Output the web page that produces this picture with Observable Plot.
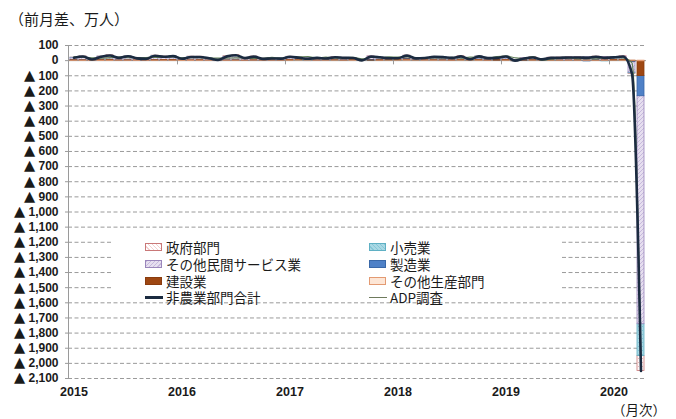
<!DOCTYPE html>
<html><head><meta charset="utf-8">
<script src="https://cdn.jsdelivr.net/npm/d3@7"></script>
<script src="https://cdn.jsdelivr.net/npm/@observablehq/plot@0.6"></script>
<style>
body{margin:0;background:#fff;}
#wrap{position:relative;width:676px;height:419px;overflow:hidden;font-family:"Noto Sans CJK JP",sans-serif;color:#1a1a1a;}
#chart{position:absolute;left:0;top:0;}
.title{position:absolute;left:9px;top:8px;font-size:15px;line-height:22px;white-space:nowrap;}
.unit{position:absolute;left:612px;top:401px;font-size:13.5px;line-height:16px;height:16px;white-space:nowrap;}
.legend{position:absolute;left:113px;top:236px;width:447px;height:62px;background:#fff;}
.li{position:absolute;height:16px;font-size:13.5px;line-height:16px;white-space:nowrap;}
.sw{position:absolute;left:0;top:4px;width:17px;height:8px;box-sizing:border-box;}
.ln{position:absolute;left:0;width:18px;}
.li span.t{position:absolute;left:21px;top:0;display:block;height:16px;line-height:16px;}
</style></head>
<body>
<div id="wrap">
  <div id="chart"></div>
  <div class="title">（前月差、万人）</div>
  <div class="unit">（月次）</div>
  <div class="legend" id="legend"></div>
</div>
<script>
// ---- categories ----
const years = [2015, 2016, 2017, 2018, 2019, 2020];
const months = d3.utcMonth.range(new Date(Date.UTC(2015,0,1)), new Date(Date.UTC(2020,4,1))).map(d => d3.utcFormat("%Y-%m")(d));
const sectors = ["政府部門","小売業","その他民間サービス業","製造業","建設業","その他生産部門"];
const stackOrder = ["その他生産部門","建設業","製造業","その他民間サービス業","小売業","政府部門"];
const yTicks = [100,0,-100,-200,-300,-400,-500,-600,-700,-800,-900,-1000,-1100,-1200,-1300,-1400,-1500,-1600,-1700,-1800,-1900,-2000,-2100];

// ---- series values (万人, 前月差) ----
const govt = [
 1.0,2.4,0.3,1.0,3.5,0.3,2.3,1.4,-0.6,2.5,2.0,2.2,
 0.7,1.3,1.0,1.3,0.1,3.4,4.6,1.8,3.0,1.5,0.8,0.3,
 1.2,0.2,0.0,-0.3,1.1,3.1,1.5,0.8,1.2,0.6,1.2,-0.1,
 0.8,1.6,0.4,0.7,1.0,0.3,0.2,4.1,0.0,1.3,1.7,0.1,
 0.8,-0.4,0.2,2.4,0.5,3.3,3.2,3.6,2.6,2.4,1.7,0.9,
 0.8,3.2,-3.5,-98.0];
const retail = [
 3.8,3.0,2.6,1.0,3.1,2.8,1.9,1.5,2.6,3.2,3.3,1.7,
 5.2,4.2,3.8,5.4,0.9,1.6,0.9,1.3,1.4,0.3,3.9,5.6,
 2.8,-2.0,-3.3,1.4,0.2,-0.2,1.3,0.0,-1.1,-0.9,2.5,-2.8,
 -0.3,4.4,-0.8,0.2,1.2,0.4,0.8,-0.5,-2.1,1.3,1.7,0.1,
 1.6,-2.7,-1.1,-0.8,-0.6,-1.0,-0.3,-1.4,-1.1,0.6,0.2,-3.0,
 -0.6,-0.4,-5.0,-210.7];
const otherServices = [
 11.2,20.6,5.7,21.1,22.8,14.8,22.9,13.9,9.6,23.5,17.2,21.1,
 5.0,18.8,17.7,8.6,6.8,22.1,27.4,15.1,19.8,9.5,8.0,5.7,
 16.0,11.6,12.5,15.4,10.7,16.2,12.4,9.7,0.5,22.9,12.3,12.4,
 10.6,16.8,11.8,11.8,17.7,17.1,12.5,18.5,8.0,18.2,9.3,12.8,
 18.2,4.7,13.7,16.3,8.4,12.6,15.2,17.9,17.9,19.8,18.4,20.5,
 16.4,19.8,-70.4,-1506.2];
const manufacturing = [
 1.5,0.5,-0.1,0.7,1.3,0.2,0.9,-1.5,-0.5,0.3,-0.3,0.6,
 2.3,-0.5,-0.3,0.6,-0.9,1.1,1.7,-0.6,-0.4,-0.9,-0.2,1.5,
 1.3,2.7,1.1,0.5,0.3,0.9,2.6,3.4,-0.4,2.6,2.9,3.2,
 1.4,2.8,2.4,2.3,1.7,3.4,2.9,1.6,1.4,3.1,2.9,2.3,
 1.5,0.6,0.1,0.3,0.2,1.7,0.8,0.3,-0.1,-4.3,5.8,-0.8,
 0.0,1.5,-3.4,-133.0];
const construction = [
 2.4,2.0,0.6,3.1,4.6,0.8,1.8,1.5,1.7,3.1,4.4,4.7,
 1.4,1.8,3.1,0.2,-1.5,0.6,1.3,-0.4,2.1,0.9,1.5,0.2,
 3.7,5.3,0.6,0.6,0.9,1.9,0.7,2.6,0.8,1.3,3.0,3.0,
 3.1,6.1,0.1,1.8,2.5,1.2,1.8,3.7,1.0,3.5,1.4,3.2,
 4.4,-2.0,1.8,3.0,0.5,2.0,0.9,0.8,2.1,0.8,0.6,1.7,
 4.9,4.2,-4.0,-97.5];
const otherGoods = [
 -0.9,-1.3,-1.3,-1.8,-1.4,-0.4,-0.6,-1.6,-0.9,-0.5,-1.2,-0.6,
 -1.9,-1.9,-1.2,-0.8,-1.0,-0.6,-0.5,-0.3,0.3,0.2,0.6,0.1,
 0.5,1.1,1.1,0.7,0.8,0.7,0.2,1.0,0.8,0.0,0.1,0.4,
 0.6,1.4,0.8,1.0,0.7,0.6,-0.2,0.8,0.5,0.7,-0.2,0.0,
 0.4,-0.1,0.0,-0.2,-0.5,-0.4,-0.4,-0.5,-0.6,-0.8,-0.6,-0.9,
 -0.1,-0.8,-0.7,-4.6];
const nonfarmTotal = [
 19.0,27.2,7.8,25.1,33.9,18.5,29.2,15.2,11.9,32.1,25.4,29.7,
 12.7,23.7,24.1,15.3,4.4,28.2,35.4,16.9,26.2,11.5,14.6,13.4,
 25.5,18.9,12.0,18.3,14.0,22.6,18.7,17.5,1.8,26.5,22.0,16.1,
 16.2,33.1,14.7,17.8,24.8,23.0,18.0,28.2,8.8,28.1,16.8,18.5,
 26.9,0.1,14.7,21.0,8.5,18.2,19.4,20.7,20.8,18.5,26.1,18.4,
 21.4,27.5,-87.0,-2050.0];
const adpSurvey = [
 25,21,18,17,20,23,19,19,20,22,21,25,
 19,20,19,16,17,17,18,18,15,15,21,15,
 24,25,26,18,23,16,18,22,11,24,19,25,
 23,24,20,17,18,18,22,16,23,22,16,27,
 30,19,13,27,3,11,14,17,12,13,12,20,
 20,18,-14.9,-2023.6];

// ---- styles ----
const fillMap = {"政府部門":"url(#pGov)","小売業":"url(#pRetail)","その他民間サービス業":"url(#pSvc)","製造業":"#4f81c7","建設業":"#9e4712","その他生産部門":"#fde6d6"};
const strokeMap = {"政府部門":"#c97878","小売業":"#5fb0c4","その他民間サービス業":"#9a86bb","製造業":"#3a68a8","建設業":"#8a3c0e","その他生産部門":"#e39a72"};
const seriesBySector = {"政府部門":govt,"小売業":retail,"その他民間サービス業":otherServices,"製造業":manufacturing,"建設業":construction,"その他生産部門":otherGoods};

const long = [];
for (const s of sectors) seriesBySector[s].forEach((v,i) => long.push({month: months[i], sector: s, value: v}));
const nfp = nonfarmTotal.map((v,i) => ({month: months[i], value: v}));
const adp = adpSurvey.map((v,i) => ({month: months[i], value: v}));
const janMonths = months.filter(m => m.endsWith("-01"));
const fmt = d3.format(",");

const W = 676, H = 419;
const mL = 68, mR = 30, mT = 45, mB = 41;
const step = (W - mL - mR) / months.length;

const chart = Plot.plot({
  width: W, height: H,
  marginLeft: mL, marginRight: mR, marginTop: mT, marginBottom: mB,
  x: {type: "band", domain: months, paddingInner: 0.22, paddingOuter: 0.11, axis: null},
  y: {domain: [-2100, 100], axis: null},
  color: {type: "identity"},
  style: {background: "transparent", fontFamily: "'Liberation Sans', Arial, sans-serif", color: "#1a1a1a"},
  marks: [
    Plot.gridY(yTicks.filter(d => d !== 0), {stroke: "#9a9a9a", strokeOpacity: 1, strokeDasharray: "4,2.5", strokeWidth: 1}),
    Plot.ruleY([0], {stroke: "#9a9a9a", strokeWidth: 1}),
    Plot.frame({anchor: "left", stroke: "#9a9a9a"}),
    Plot.ruleX(janMonths.slice(1), {y1: 0, y2: -28, dx: -step/2, stroke: "#9a9a9a"}),
    Plot.barY(long, Plot.stackY({x: "month", y: "value", z: "sector", order: stackOrder,
      fill: d => fillMap[d.sector], stroke: d => strokeMap[d.sector], strokeWidth: 0.8})),
    Plot.line(adp, {x: "month", y: "value", stroke: "#62805a", strokeWidth: 1.2, curve: "monotone-x"}),
    Plot.line(nfp, {x: "month", y: "value", stroke: "#1b2b40", strokeWidth: 2.6, curve: "monotone-x"}),
    Plot.axisY({ticks: yTicks, tickSize: 3, tickPadding: 7, stroke: "#9a9a9a", label: null,
      tickFormat: d => d < 0 ? "▲ " + fmt(-d) : fmt(d),
      fontSize: 12, fontWeight: "bold", fill: "#1a1a1a"}),
    Plot.axisX({ticks: janMonths, tickSize: 0, tickPadding: 9, label: null,
      tickFormat: d => d.slice(0,4), fontSize: 12.5, fontWeight: "bold", fill: "#1a1a1a"})
  ]
});

// patterns for the hatched / dotted sectors
const defs = d3.create("svg:defs");
function pattern(id, bg, draw) {
  const p = defs.append("pattern").attr("id", id).attr("patternUnits", "userSpaceOnUse").attr("width", 4).attr("height", 4);
  p.append("rect").attr("width", 4).attr("height", 4).attr("fill", bg);
  draw(p);
}
pattern("pGov", "#fff8f8", p => { p.append("rect").attr("x",0).attr("y",0).attr("width",1).attr("height",1).attr("fill","#e8b8b8"); p.append("rect").attr("x",2).attr("y",2).attr("width",1).attr("height",1).attr("fill","#e8b8b8"); });
pattern("pRetail", "#a9d8e4", p => { p.append("rect").attr("x",0).attr("y",0).attr("width",1).attr("height",1).attr("fill","#7fc2d4"); p.append("rect").attr("x",2).attr("y",2).attr("width",1).attr("height",1).attr("fill","#7fc2d4"); });
pattern("pSvc", "#e6dfef", p => { p.append("path").attr("d","M-1,1 L1,-1 M0,4 L4,0 M3,5 L5,3").attr("stroke","#c6b8dc").attr("stroke-width",1); });
chart.insertBefore(defs.node(), chart.firstChild);

// enlarge the ▲ glyph of negative tick labels (kept as real text)
d3.select(chart).selectAll('g[aria-label="y-axis tick label"] text').each(function() {
  const s = this.textContent;
  if (s.startsWith("▲")) {
    const sel = d3.select(this);
    sel.text(null);
    sel.append("tspan").attr("font-family", "'DejaVu Sans', sans-serif").attr("font-size", 14.5).text("▲");
    sel.append("tspan").text(s.slice(1));
  }
});
document.getElementById("chart").appendChild(chart);

// legend
const legendItems = [
  {label: "政府部門", col: 0, row: 0, type: "box", bg: "repeating-linear-gradient(45deg,#fff 0 2px,#f3d0d0 2px 3px)", bd: "#c97878"},
  {label: "小売業", col: 1, row: 0, type: "box", bg: "repeating-linear-gradient(45deg,#a9d8e4 0 2px,#86c6d6 2px 3px)", bd: "#5fb0c4"},
  {label: "その他民間サービス業", col: 0, row: 1, type: "box", bg: "repeating-linear-gradient(-45deg,#e6dfef 0 2px,#c6b8dc 2px 3px)", bd: "#9a86bb"},
  {label: "製造業", col: 1, row: 1, type: "box", bg: "#4f81c7", bd: "#3a68a8"},
  {label: "建設業", col: 0, row: 2, type: "box", bg: "#9e4712", bd: "#8a3c0e"},
  {label: "その他生産部門", col: 1, row: 2, type: "box", bg: "#fde6d6", bd: "#e39a72"},
  {label: "非農業部門合計", col: 0, row: 3, type: "line", color: "#1b2b40", w: 3},
  {label: "ADP調査", col: 1, row: 3, type: "line", color: "#6e7a5c", w: 1}
];
const leg = document.getElementById("legend");
for (const it of legendItems) {
  const el = document.createElement("div");
  el.className = "li";
  el.style.left = (it.col === 0 ? 32 : 256) + "px";
  el.style.top = (3 + it.row * 16.8) + "px";
  const sw = document.createElement("div");
  if (it.type === "box") {
    sw.className = "sw";
    sw.style.background = it.bg;
    sw.style.border = "1.3px solid " + it.bd;
  } else {
    sw.className = "ln";
    sw.style.height = it.w + "px";
    sw.style.top = (8 - it.w / 2) + "px";
    sw.style.background = it.color;
  }
  const t = document.createElement("span");
  t.className = "t";
  t.textContent = it.label;
  el.appendChild(sw); el.appendChild(t);
  leg.appendChild(el);
}
</script>
</body></html>
